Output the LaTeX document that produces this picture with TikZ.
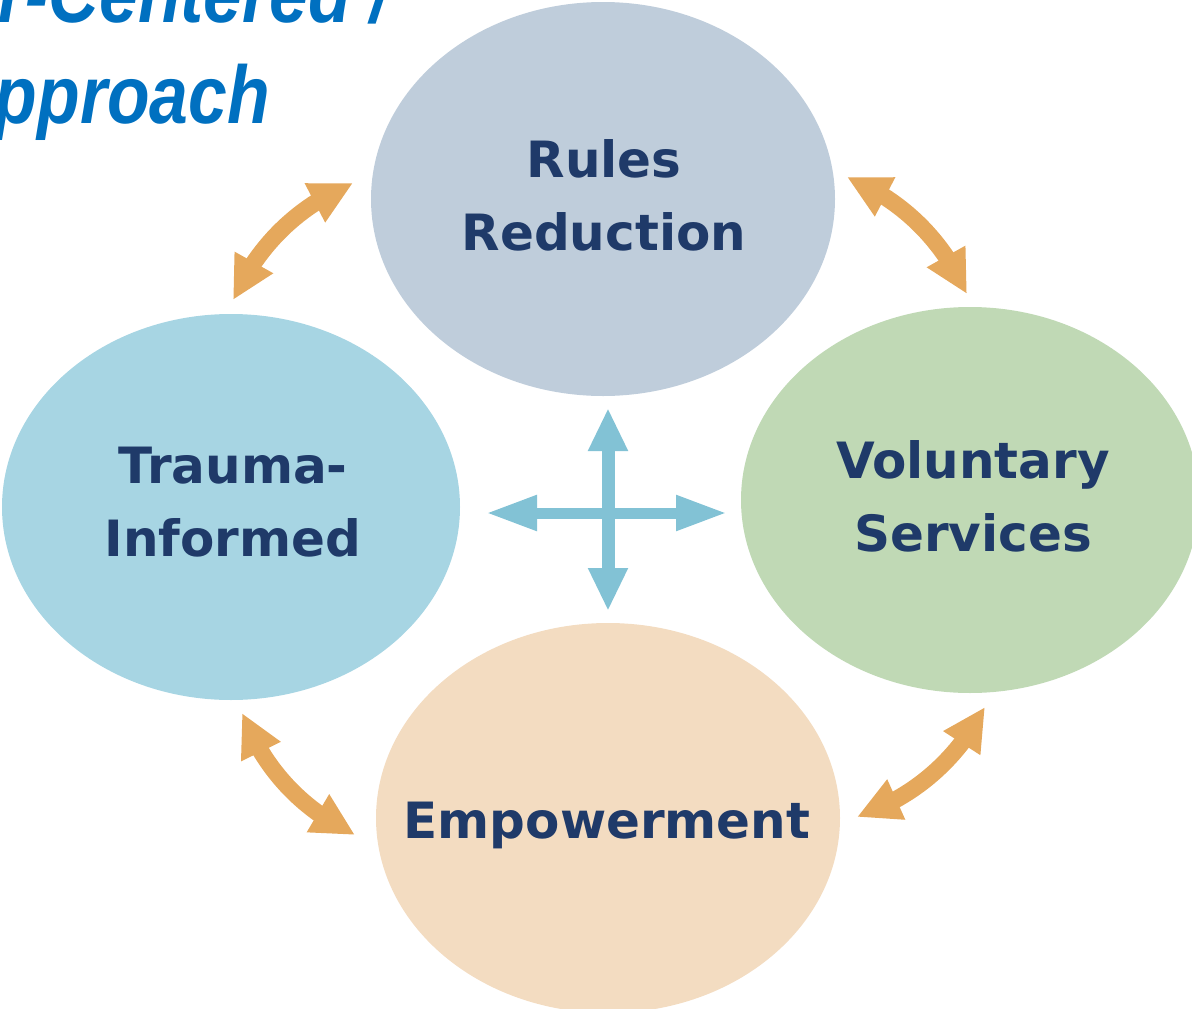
\documentclass[tikz,border=0pt]{standalone}
\usepackage{fontspec}
\setmainfont{DejaVu Sans}
\newfontfamily\titlefont[FakeStretch=0.85]{Liberation Sans}
\usetikzlibrary{arrows.meta,bending,shapes.geometric}
\definecolor{rulesc}{RGB}{191,205,219}
\definecolor{traumac}{RGB}{167,213,227}
\definecolor{volc}{RGB}{192,217,181}
\definecolor{empc}{RGB}{243,220,193}
\definecolor{navy}{RGB}{31,58,105}
\definecolor{orangec}{RGB}{229,168,92}
\definecolor{crossc}{RGB}{130,194,213}
\definecolor{titlec}{RGB}{0,112,192}
\tikzset{
  bubble/.style={ellipse, inner sep=0pt, draw=none},
  label text/.style={inner sep=0pt, text=navy, align=center, font=\bfseries\fontsize{50}{73}\selectfont},
  oarrow/.style={draw=orangec, line width=17pt, {Triangle[length=43pt,width=41pt,flex]}-{Triangle[length=43pt,width=41pt,flex]}},
  vcross/.style={draw=crossc, line width=13pt, {Triangle[length=43pt,width=37pt]}-{Triangle[length=43pt,width=37pt]}},
  hcross/.style={draw=crossc, line width=11pt, {Triangle[length=51pt,width=33pt]}-{Triangle[length=51pt,width=33pt]}},
  titletext/.style={inner sep=0pt, text=titlec, font=\titlefont\bfseries\itshape\fontsize{82}{90}\selectfont}
}
\begin{document}
\begin{tikzpicture}[x=1pt,y=-1pt]
\useasboundingbox (0,0) rectangle (1192,1009);
\clip (0,0) rectangle (1192,1009);
% title
\node[titletext, anchor=base east] (t1) at (390,22) {r-Centered /};
\node[titletext, anchor=base east] (t2) at (270,123) {pproach};
% ellipses
\node[bubble, fill=rulesc, minimum width=464pt, minimum height=394pt] (rules) at (603,199) {};
\node[bubble, fill=traumac, minimum width=458pt, minimum height=386pt] (trauma) at (231,507) {};
\node[bubble, fill=volc, minimum width=458pt, minimum height=386pt] (vol) at (970,500) {};
\node[bubble, fill=empc, minimum width=464pt, minimum height=390pt] (emp) at (608,818) {};
% labels
\node[label text] (rulesT) at (604,195) {Rules\\Reduction};
\node[label text] (traumaT) at (233,502) {Trauma-\\Informed};
\node[label text] (volT) at (973,496) {Voluntary\\Services};
\node[label text] (empT) at (607,825) {Empowerment};
% orange arrows
\coordinate (tlA) at (233,300); \coordinate (tlB) at (353,183);
\coordinate (trA) at (847,177); \coordinate (trB) at (967,294);
\coordinate (blA) at (242,713); \coordinate (blB) at (355,835);
\coordinate (brA) at (857,817); \coordinate (brB) at (985,707);
\draw[oarrow] (tlA) .. controls (258,245) and (298,206) .. (tlB);
\draw[oarrow] (trA) .. controls (902,200) and (942,239) .. (trB);
\draw[oarrow] (blA) .. controls (264,769) and (301,809) .. (blB);
\draw[oarrow] (brA) .. controls (914,797) and (956,761) .. (brB);
% cross
\coordinate (cN) at (608,408); \coordinate (cS) at (608,611);
\coordinate (cW) at (486,513); \coordinate (cE) at (727,513);
\draw[vcross] (cN) -- (cS);
\draw[hcross] (cW) -- (cE);
\end{tikzpicture}
\end{document}
